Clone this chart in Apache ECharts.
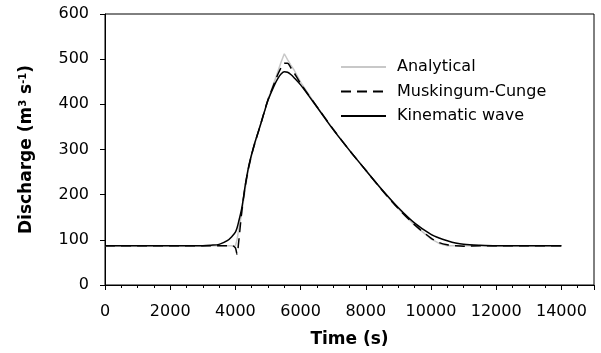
<!DOCTYPE html>
<html>
<head>
<meta charset="utf-8">
<script src="https://cdn.jsdelivr.net/npm/echarts@6/dist/echarts.min.js"></script>
<style>html,body{margin:0;padding:0;background:#fff}#c{width:601px;height:353px}</style>
</head>
<body>
<div id="c"></div>
<script>
var timeS = [0, 1000, 2000, 3000, 3250, 3500, 3750, 3900, 4000, 4050, 4100, 4200, 4300, 4400, 4500, 4600, 4700, 4800, 4900, 5000, 5200, 5300, 5400, 5500, 5600, 5700, 5800, 6000, 6500, 7000, 7500, 8000, 8500, 9000, 9500, 10000, 10250, 10500, 10750, 11000, 11500, 12000, 13000, 14000];
var analytical = [87, 87, 87, 87, 87, 87, 87, 87, 87, 100, 122, 162, 212, 256, 288, 314, 338, 362, 387, 411, 451, 472, 493, 512, 499, 487, 476, 449, 395, 345, 298, 254, 210, 169, 132, 102, 92, 87, 87, 87, 87, 87, 87, 87];
var muskingum = [87, 87, 87, 87, 87, 87, 87, 87, 82, 68, 95, 165, 218, 258, 289, 315, 338, 362, 387, 410, 448, 466, 481, 491, 491, 481, 470, 446, 395, 345, 298, 254, 210, 169, 133, 104, 94, 89, 87, 86, 87, 87, 87, 87];
var kinematic = [87, 87, 87, 87, 88, 90, 98, 108, 117, 126, 140, 172, 220, 260, 290, 316, 339, 362, 386, 409, 443, 457, 467, 472, 471, 466, 459, 443, 394, 344, 298, 254, 211, 171, 137, 112, 104, 98, 93, 90, 88, 87, 87, 87];
var xTicks = [0, 2000, 4000, 6000, 8000, 10000, 12000, 14000];
var yTicks = [0, 100, 200, 300, 400, 500, 600];

function pairs(v) { return timeS.map(function (t, i) { return [t, v[i]]; }); }
var FF = 'DejaVu Sans';
var chart = echarts.init(document.getElementById('c'), null, {renderer: 'canvas'});
chart.setOption({
  backgroundColor: '#fff',
  animation: false,
  grid: {left: 105, right: 7, top: 14, bottom: 66, show: true, borderColor: '#000', borderWidth: 1},
  legend: {
    orient: 'vertical', left: 335, top: 54, itemWidth: 45, itemHeight: 14, itemGap: 8.5,
    itemStyle: {opacity: 0},
    textStyle: {fontFamily: FF, fontSize: 16, color: '#000', lineHeight: 16, padding: [0, 0, 0, 6]},
    data: ['Analytical', 'Muskingum-Cunge', 'Kinematic wave']
  },
  xAxis: {
    type: 'value', min: 0, max: 15000, interval: 2000,
    name: 'Time (s)', nameLocation: 'middle', nameGap: 46,
    nameTextStyle: {fontFamily: FF, fontWeight: 'bold', fontSize: 17, color: '#000'},
    axisLine: {lineStyle: {color: '#000', width: 1}},
    axisTick: {length: 5, lineStyle: {color: '#000'}},
    minorTick: {show: true, splitNumber: 4, length: 3, lineStyle: {color: '#000'}},
    splitLine: {show: false},
    axisLabel: {fontFamily: FF, fontSize: 16, color: '#000', margin: 19,
      formatter: function (v) { return xTicks.indexOf(v) >= 0 ? String(v) : ''; }}
  },
  yAxis: {
    type: 'value', min: 0, max: 600, interval: 100,
    name: 'Discharge (m{sup|3} s{sup|-1})', nameLocation: 'middle', nameGap: 70, nameRotate: 90,
    nameTextStyle: {fontFamily: FF, fontWeight: 'bold', fontSize: 17, color: '#000',
      rich: {sup: {fontFamily: FF, fontWeight: 'bold', fontSize: 10, color: '#000', verticalAlign: 'top'}}},
    axisLine: {show: true, lineStyle: {color: '#000', width: 1}},
    axisTick: {show: true, length: 5, lineStyle: {color: '#000'}},
    splitLine: {show: false},
    axisLabel: {fontFamily: FF, fontSize: 16, color: '#000', margin: 16,
      formatter: function (v) { return yTicks.indexOf(v) >= 0 ? String(v) : ''; }}
  },
  series: [
    {name: 'Analytical', type: 'line', data: pairs(analytical), symbol: 'none', smooth: false,
     lineStyle: {color: '#c8c8c8', width: 1.5}, itemStyle: {color: '#c8c8c8'}},
    {name: 'Muskingum-Cunge', type: 'line', data: pairs(muskingum), symbol: 'none', smooth: 0.3,
     lineStyle: {color: '#000', width: 1.5, type: [10, 6]}, itemStyle: {color: '#000'}},
    {name: 'Kinematic wave', type: 'line', data: pairs(kinematic), symbol: 'none', smooth: 0.3,
     lineStyle: {color: '#000', width: 1.5}, itemStyle: {color: '#000'}}
  ]
});
</script>
</body>
</html>
